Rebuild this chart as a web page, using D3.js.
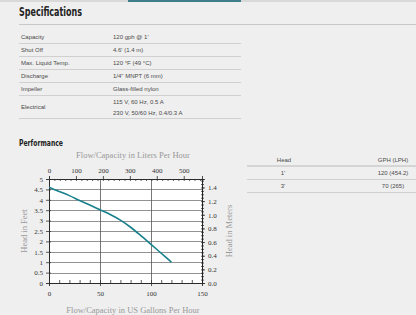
<!DOCTYPE html>
<html>
<head>
<meta charset="utf-8">
<script src="https://cdn.jsdelivr.net/npm/d3@7"></script>
<style>
	body { margin: 0; background: #efefef; }
	svg { display: block; }
	.spec { font-family: "Liberation Sans", Arial, sans-serif; font-size: 6px; fill: #4a4a4a; }
	.title { font-family: "DejaVu Sans Condensed", "DejaVu Sans", sans-serif; font-weight: bold; fill: #222; }
	.chart text { font-family: "Liberation Serif", "Times New Roman", serif; }
	.tick text { fill: #333; font-size: 7px; }
	.axis-title { fill: #999; font-size: 8.5px; }
</style>
</head>
<body>
<svg id="page" width="416" height="315"></svg>
<script>
// specification table
var specNames = ["Capacity", "Shut Off", "Max. Liquid Temp.", "Discharge", "Impeller", "Electrical"]
var specValues = [["120 gph @ 1'"], ["4.6' (1.4 m)"], ["120 °F (49 °C)"], ["1/4\" MNPT (6 mm)"], ["Glass-filled nylon"], ["115 V, 60 Hz, 0.5 A", "230 V, 50/60 Hz, 0.4/0.3 A"]]

// performance table
var perfHeads = ["1'", "3'"]
var perfFlows = ["120 (454.2)", "70 (265)"]

// pump curve, flow in US gal/h, head in feet
var flowGph = [0, 10, 20, 30, 40, 50, 60, 70, 80, 90, 100, 110, 120]
var headFt = [4.6, 4.4, 4.2, 3.97, 3.75, 3.52, 3.29, 3.02, 2.68, 2.28, 1.86, 1.43, 1.0]

var gphTicks = [0, 50, 100, 150]
var ftTicks = [0, 0.5, 1, 1.5, 2, 2.5, 3, 3.5, 4, 4.5, 5]
var lphTicks = [0, 100, 200, 300, 400, 500]
var mTicks = [0, 0.2, 0.4, 0.6, 0.8, 1.0, 1.2, 1.4]

var svg = d3.select("#page")

// top tab bar
svg.append("rect").attr("x", 0).attr("y", 0).attr("width", 416).attr("height", 2).style("fill", "#d9d9d9")
svg.append("rect").attr("x", 128).attr("y", 0).attr("width", 113).attr("height", 2).style("fill", "#3e7d89")

svg.append("text").attr("class", "title").attr("x", 19).attr("y", 15.5).style("font-size", "12.5px")
	.attr("textLength", 63).attr("lengthAdjust", "spacingAndGlyphs").text("Specifications")
svg.append("line").attr("x1", 19).attr("x2", 416).attr("y1", 24.5).attr("y2", 24.5).style("stroke", "#c8c8c8")

var rowTop = [31, 44, 57, 70, 83, 96]
var rowBottom = [43.5, 56.5, 69.5, 82.5, 95.5, 118.5]
specNames.forEach(function (name, i) {
	var mid = (rowTop[i] + rowBottom[i]) / 2
	svg.append("text").attr("class", "spec").attr("x", 21).attr("y", mid + 2).text(name)
	var vals = specValues[i]
	vals.forEach(function (v, j) {
		var yy = vals.length == 1 ? mid + 2 : mid + 2 + (j - 0.5) * 11
		svg.append("text").attr("class", "spec").attr("x", 113).attr("y", yy).text(v)
	})
	svg.append("line").attr("x1", 19).attr("x2", 241).attr("y1", rowBottom[i]).attr("y2", rowBottom[i]).style("stroke", "#d0d0d0")
})

svg.append("text").attr("class", "title").attr("x", 19).attr("y", 145.5).style("font-size", "9.5px")
	.attr("textLength", 44).attr("lengthAdjust", "spacingAndGlyphs").text("Performance")

// right performance table
svg.append("text").attr("class", "spec").attr("x", 284).attr("y", 161.5).attr("text-anchor", "middle").text("Head")
svg.append("text").attr("class", "spec").attr("x", 393).attr("y", 161.5).attr("text-anchor", "middle").text("GPH (LPH)")
svg.append("line").attr("x1", 247).attr("x2", 416).attr("y1", 166).attr("y2", 166).style("stroke", "#bbb")
perfHeads.forEach(function (h, i) {
	var yy = 175 + i * 13
	svg.append("text").attr("class", "spec").attr("x", 283).attr("y", yy).attr("text-anchor", "middle").text(h)
	svg.append("text").attr("class", "spec").attr("x", 393).attr("y", yy).attr("text-anchor", "middle").text(perfFlows[i])
	svg.append("line").attr("x1", 247).attr("x2", 416).attr("y1", yy + 4.5).attr("y2", yy + 4.5).style("stroke", "#d0d0d0")
})

// chart
var margin = { top: 179, left: 49 },
	width = 153,
	height = 104

var x = d3.scaleLinear().domain([0, 150]).range([0, width])
var y = d3.scaleLinear().domain([0, 5]).range([height, 0])
var xL = d3.scaleLinear().domain([0, 150 * 3.785]).range([0, width])
var yM = d3.scaleLinear().domain([0, 5 * 0.3048]).range([height, 0])

var g = svg.append("g").attr("class", "chart")
	.attr("transform", "translate(" + margin.left + "," + margin.top + ")")

g.append("rect").attr("width", width).attr("height", height).style("fill", "#fff")

// grid
g.selectAll(".hgrid").data(ftTicks.slice(1, -1)).enter().append("line")
	.attr("x1", 0).attr("x2", width)
	.attr("y1", function (d) { return Math.round(y(d)) + 0.5 })
	.attr("y2", function (d) { return Math.round(y(d)) + 0.5 })
	.style("stroke", "#777").style("stroke-width", 0.8)
g.selectAll(".vgrid").data([50, 100]).enter().append("line")
	.attr("y1", 0).attr("y2", height)
	.attr("x1", function (d) { return Math.round(x(d)) + 0.5 })
	.attr("x2", function (d) { return Math.round(x(d)) + 0.5 })
	.style("stroke", "#555").style("stroke-width", 0.8)

// axes
g.append("g").attr("class", "axis")
	.call(d3.axisLeft(y).tickValues(ftTicks).tickSize(3).tickFormat(d3.format("")))
g.append("g").attr("class", "axis")
	.call(d3.axisLeft(y).tickValues(d3.range(0, 5.01, 0.5)).tickSize(-2).tickFormat(""))

g.append("g").attr("class", "axis")
	.attr("transform", "translate(0," + height + ")")
	.call(d3.axisBottom(x).tickValues(gphTicks).tickSize(3).tickPadding(5))
g.append("g").attr("class", "axis")
	.attr("transform", "translate(0," + height + ")")
	.call(d3.axisBottom(x).tickValues(d3.range(0, 151, 10)).tickSize(-3).tickFormat(""))

g.append("g").attr("class", "axis")
	.call(d3.axisTop(xL).tickValues(lphTicks).tickSize(3).tickPadding(3))
g.append("g").attr("class", "axis")
	.call(d3.axisTop(xL).tickValues(d3.range(0, 561, 20)).tickSize(-2).tickFormat(""))

g.append("g").attr("class", "axis")
	.attr("transform", "translate(" + width + ",0)")
	.call(d3.axisRight(yM).tickValues(mTicks).tickSize(3).tickPadding(3).tickFormat(d3.format(".1f")))
g.append("g").attr("class", "axis")
	.attr("transform", "translate(" + width + ",0)")
	.call(d3.axisRight(yM).tickValues(d3.range(0, 1.52, 0.05)).tickSize(2).tickFormat(""))
g.append("g").attr("class", "axis")
	.attr("transform", "translate(" + width + ",0)")
	.call(d3.axisLeft(yM).tickValues(d3.range(0, 1.52, 0.05)).tickSize(1).tickFormat(""))

g.selectAll(".axis path, .axis line").style("stroke", "#333").style("stroke-width", 0.8)
g.selectAll(".axis .domain").style("stroke", "#222")

// curve
var pts = flowGph.map(function (f, i) { return [f, headFt[i]] })
g.append("path")
	.datum(pts)
	.attr("d", d3.line()
		.x(function (d) { return x(d[0]) })
		.y(function (d) { return y(d[1]) })
		.curve(d3.curveMonotoneX))
	.style("fill", "none")
	.style("stroke", "#18808c")
	.style("stroke-width", 1.6)

// axis titles
g.append("text").attr("class", "axis-title").attr("text-anchor", "middle")
	.attr("x", 84).attr("y", -21).text("Flow/Capacity in Liters Per Hour")
g.append("text").attr("class", "axis-title").attr("text-anchor", "middle")
	.attr("x", 84).attr("y", 134).text("Flow/Capacity in US Gallons Per Hour")
g.append("text").attr("class", "axis-title").attr("text-anchor", "middle")
	.attr("transform", "translate(-22," + (height / 2) + ") rotate(-90)").text("Head in Feet")
g.append("text").attr("class", "axis-title").attr("text-anchor", "middle")
	.attr("transform", "translate(" + (width + 30) + "," + (height / 2) + ") rotate(-90)").text("Head in Meters")
</script>
</body>
</html>
